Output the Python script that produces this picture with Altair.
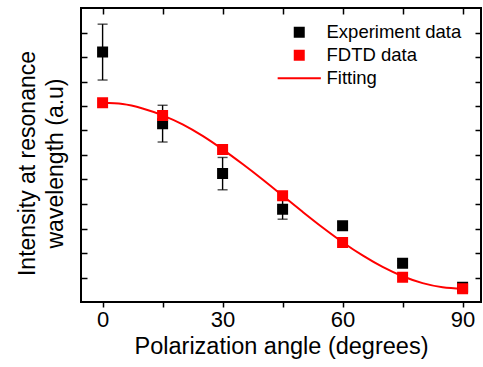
import altair as alt
import pandas as pd

# ---- data ----
angles = [0, 15, 30, 45, 60, 75, 90]
exp_vals = [10.20, 7.28, 5.24, 3.79, 3.11, 1.58, 0.60]
exp_err = [1.14, 0.75, 0.66, 0.41, 0.15, 0.10, 0.15]
fdtd_vals = [8.13, 7.61, 6.22, 4.34, 2.43, 1.01, 0.54]
fit_angles = [0, 5, 10, 15, 20, 25, 30, 35, 40, 45, 50, 55, 60, 65, 70, 75, 80, 85, 90]
fit_vals = [8.13, 8.08, 7.90, 7.62, 7.25, 6.78, 6.23, 5.63, 5.00, 4.34, 3.68, 3.04,
            2.44, 1.90, 1.43, 1.05, 0.77, 0.60, 0.54]
series_names = ["Experiment data", "FDTD data", "Fitting"]
series_fill = ["black", "red", "red"]
series_shape = ["square", "square", "M-4.8,0H4.8"]
x_ticks = [0, 15, 30, 45, 60, 75, 90]
y_ticks = list(range(1, 12))

FONT = "Liberation Sans, Arial"

pts = pd.DataFrame({
    "angle": angles + angles,
    "value": exp_vals + fdtd_vals,
    "series": [series_names[0]] * len(angles) + [series_names[1]] * len(angles),
})
err = pd.DataFrame({
    "angle": angles,
    "low": [v - e for v, e in zip(exp_vals, exp_err)],
    "high": [v + e for v, e in zip(exp_vals, exp_err)],
})
fit = pd.DataFrame({"angle": fit_angles, "value": fit_vals})

x_scale = alt.Scale(domain=[-5.4, 94.6], nice=False, zero=False)
y_scale = alt.Scale(domain=[0, 12], nice=False, zero=False)

x_axis = alt.Axis(values=x_ticks, labelExpr="datum.value % 30 == 0 ? datum.label : ''",
                  tickSize=5, tickWidth=1.5, tickColor="black", domain=False, grid=False,
                  labelFontSize=22, labelFont=FONT, labelColor="black", labelPadding=2,
                  title="Polarization angle (degrees)", titleFontSize=23.5, titleFont=FONT,
                  titleFontWeight="normal", titleColor="black", titlePadding=4)
y_axis = alt.Axis(values=y_ticks, labels=False, offset=-6, tickSize=6, tickWidth=1.5,
                  tickColor="black", domain=False, grid=False,
                  title=["Intensity at resonance", "wavelength (a.u)"], titleFontSize=23,
                  titleFont=FONT, titleFontWeight="normal", titleColor="black",
                  titlePadding=12.5, titleLineHeight=28, titleY=155)

X = alt.X("angle:Q", scale=x_scale, axis=x_axis)

rule = alt.Chart(err).mark_rule(color="black", strokeWidth=1.4).encode(
    x=X, y=alt.Y("low:Q", scale=y_scale, axis=y_axis), y2="high:Q")
cap_lo = alt.Chart(err).mark_tick(color="black", orient="horizontal", size=10, thickness=1.4).encode(
    x=X, y=alt.Y("low:Q", scale=y_scale, axis=y_axis))
cap_hi = alt.Chart(err).mark_tick(color="black", orient="horizontal", size=10, thickness=1.4).encode(
    x=X, y=alt.Y("high:Q", scale=y_scale, axis=y_axis))

line = alt.Chart(fit).mark_line(color="red", strokeWidth=2, interpolate="monotone").encode(
    x=X, y=alt.Y("value:Q", scale=y_scale, axis=y_axis))

leg = alt.Legend(orient="none", legendX=209, legendY=15, title=None, labelFont=FONT,
                 labelFontSize=18.5, labelColor="black", labelOffset=18, symbolStrokeWidth=2,
                 symbolSize=81, rowPadding=4, padding=0)

points = alt.Chart(pts).mark_point(filled=True, size=81, strokeWidth=2, opacity=1).encode(
    x=X, y=alt.Y("value:Q", scale=y_scale, axis=y_axis),
    fill=alt.Fill("series:N", scale=alt.Scale(domain=series_names, range=series_fill), legend=leg),
    stroke=alt.Stroke("series:N", scale=alt.Scale(domain=series_names, range=series_fill), legend=leg),
    shape=alt.Shape("series:N", scale=alt.Scale(domain=series_names, range=series_shape), legend=leg),
    order=alt.Order("series:N", sort="ascending"),
)

main = alt.layer(rule, cap_lo, cap_hi, line, points)

frame = alt.Chart(pts).mark_point(opacity=0).encode(
    x=alt.X("angle:Q", scale=x_scale,
            axis=alt.Axis(orient="top", values=x_ticks, labels=False, offset=-6, tickSize=6,
                          tickWidth=1.5, tickColor="black", domain=False, grid=False, title=None)),
    y=alt.Y("value:Q", scale=y_scale,
            axis=alt.Axis(orient="right", values=y_ticks, labels=False, offset=-6, tickSize=6,
                          tickWidth=1.5, tickColor="black", domain=False, grid=False, title=None)),
)

chart = alt.layer(main, frame).resolve_scale(x="independent", y="independent").properties(
    width=400, height=294,
    padding={"left": 81, "top": 8, "right": 2, "bottom": 65},
    autosize=alt.AutoSizeParams(type="none"),
    background="white",
).configure_view(stroke="black", strokeWidth=2)

chart.save("out.html", embed_options={"renderer": "svg", "actions": False})
